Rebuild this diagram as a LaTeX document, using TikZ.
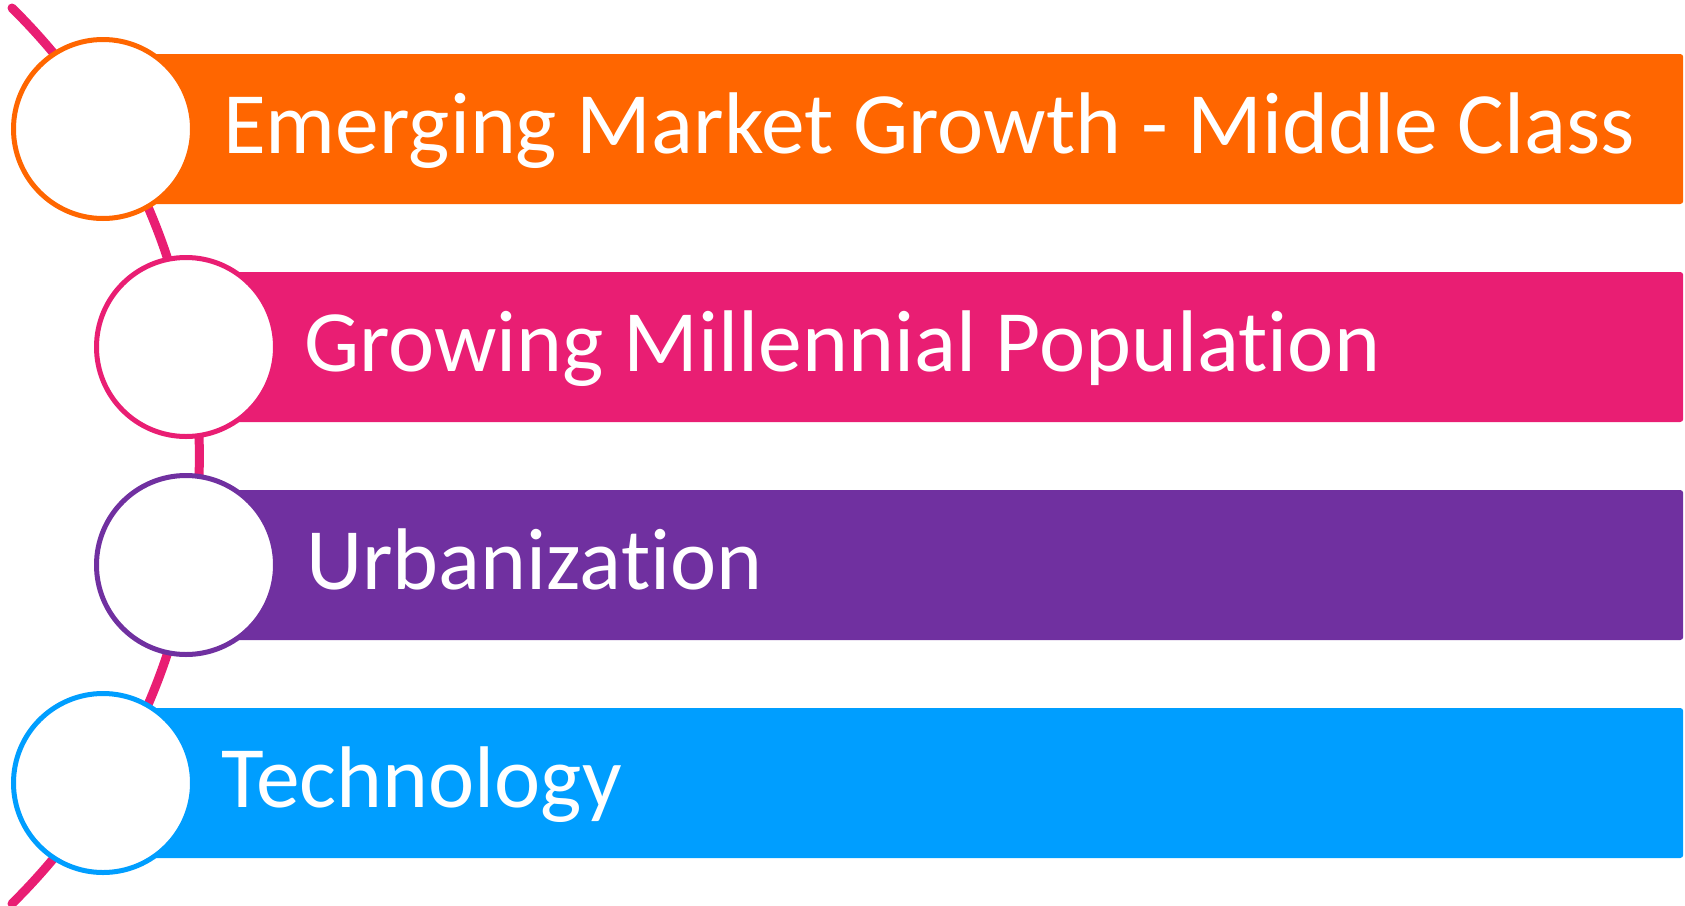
\documentclass[tikz,border=0pt]{standalone}
\usepackage{fontspec}
\setmainfont{Carlito}[Ligatures={NoCommon}]
\definecolor{cOrange}{RGB}{255,102,0}
\definecolor{cPink}{RGB}{233,30,115}
\definecolor{cPurple}{RGB}{112,48,160}
\definecolor{cBlue}{RGB}{0,158,255}
\begin{document}
\begin{tikzpicture}[x=1pt,y=-1pt,
  bar/.style={rectangle, rounded corners=3pt, inner sep=0pt,
    minimum height=150pt, anchor=west},
  ring/.style={circle, draw, line width=5pt, fill=white, inner sep=0pt,
    minimum size=179pt},
  label/.style={anchor=base west, inner sep=0pt, text=white,
    font=\fontsize{87.5}{100}\selectfont}]
  \useasboundingbox (0,0) rectangle (1685,905);
  % sweeping spine behind the rings
  \coordinate (spinetop) at (12,8);
  \draw[cPink, line width=9pt, line cap=round]
    (spinetop) arc[start angle=45.4, end angle=-45.4, radius=629pt];
  % coloured bars
  \node[bar, fill=cOrange, minimum width=1580pt] (b1) at (103,129) {};
  \node[bar, fill=cPink,   minimum width=1497pt] (b2) at (186,347) {};
  \node[bar, fill=cPurple, minimum width=1497pt] (b3) at (186,565) {};
  \node[bar, fill=cBlue,   minimum width=1580pt] (b4) at (103,783) {};
  % rings on the spine
  \node[ring, draw=cOrange] (r1) at (103,129) {};
  \node[ring, draw=cPink]   (r2) at (186,347) {};
  \node[ring, draw=cPurple] (r3) at (186,565) {};
  \node[ring, draw=cBlue]   (r4) at (103,783) {};
  % bar texts
  \node[label] (t1) at (223,153) {Emerging Market Growth - Middle Class};
  \node[label] (t2) at (304,371) {Growing Millennial Population};
  \node[label] (t3) at (306,589) {Urbanization};
  \node[label] (t4) at (221,807) {Technology};
\end{tikzpicture}
\end{document}
